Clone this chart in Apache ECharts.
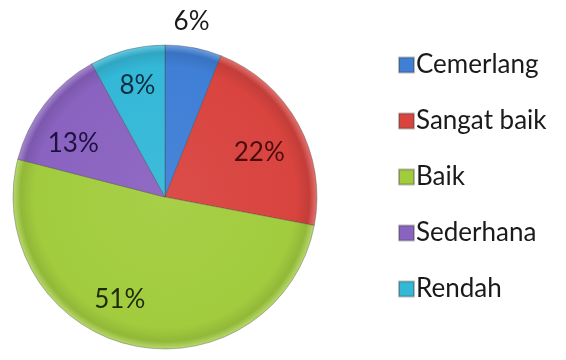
<!DOCTYPE html>
<html>
<head>
<meta charset="utf-8">
<script src="https://cdn.jsdelivr.net/npm/echarts@6/dist/echarts.min.js"></script>
<style>
  html, body { margin: 0; padding: 0; background: #fff; }
  #chart { width: 566px; height: 360px; }
</style>
</head>
<body>
<div id="chart"></div>
<script>
// Share of results per grade (percent)
const categories = ['Cemerlang', 'Sangat baik', 'Baik', 'Sederhana', 'Rendah'];
const values = [6, 22, 51, 13, 8];

// Slice colours and the matching darker label inks
const sliceColors = ['#3f7fd6', '#d9443f', '#a2cc3e', '#8a62c0', '#34b8d8'];
const labelInks = ['#1a1a1a', '#4a0c0c', '#1e2a08', '#1c1240', '#0c2f40'];

// Fine nudges for the percentage labels
const labelNudges = [[-26, -20], [-3, 9], [-21, -6], [-4, 15], [0, -4]];

const CX = 165, CY = 197, R = 152;

function shade(hex, f) {
  const n = parseInt(hex.slice(1), 16);
  let r = (n >> 16) & 255, g = (n >> 8) & 255, b = n & 255;
  const m = c => Math.max(0, Math.min(255, Math.round(f >= 0 ? c + (255 - c) * f : c * (1 + f))));
  return 'rgb(' + m(r) + ',' + m(g) + ',' + m(b) + ')';
}

function sliceFill(hex) {
  return {
    type: 'radial', x: CX, y: CY, r: R, global: true,
    colorStops: [
      { offset: 0, color: shade(hex, 0.05) },
      { offset: 0.86, color: hex },
      { offset: 0.95, color: shade(hex, -0.1) },
      { offset: 1, color: shade(hex, 0.25) }
    ]
  };
}

const pieData = categories.map((name, i) => ({
  name, value: values[i],
  itemStyle: { color: sliceFill(sliceColors[i]) }
}));

// Transparent ring used only to place the percentage labels
const labelData = categories.map((name, i) => {
  const item = {
    name, value: values[i],
    label: { color: labelInks[i], offset: labelNudges[i] }
  };
  if (i === 0) {
    item.label.position = 'outside';
  }
  return item;
});

const chart = echarts.init(document.getElementById('chart'));
chart.setOption({
  animation: false,
  legend: {
    orient: 'vertical',
    left: 393,
    top: 47,
    itemWidth: 15,
    itemHeight: 15,
    itemGap: 30,
    icon: 'rect',
    selectedMode: false,
    textStyle: { fontFamily: 'Lato', fontSize: 26, color: '#1a1a1a', lineHeight: 25, padding: [0, 0, 0, -3] },
    data: categories.map((name, i) => ({ name, itemStyle: { color: sliceColors[i] } }))
  },
  series: [
    {
      type: 'pie',
      center: [CX, CY],
      radius: [0, R],
      startAngle: 90,
      clockwise: true,
      silent: true,
      label: { show: false },
      labelLine: { show: false },
      itemStyle: { borderColor: 'rgba(60,60,60,0.35)', borderWidth: 1 },
      data: pieData
    },
    {
      type: 'pie',
      center: [CX, CY],
      radius: [64, R],
      startAngle: 90,
      clockwise: true,
      silent: true,
      itemStyle: { color: 'rgba(0,0,0,0)' },
      label: {
        show: true,
        position: 'inside',
        formatter: '{c}%',
        fontFamily: 'Lato',
        fontSize: 26
      },
      labelLine: { show: false, length: 6, length2: 0 },
      data: labelData
    }
  ]
});
</script>
</body>
</html>
